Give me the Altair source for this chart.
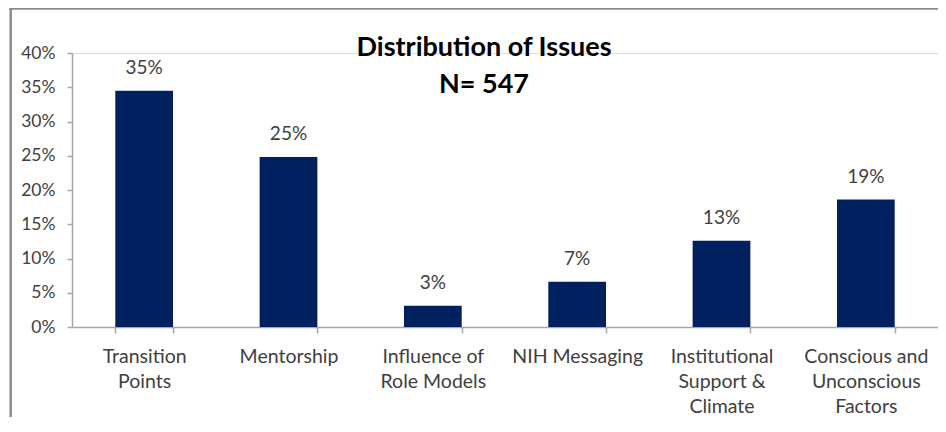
import altair as alt
import pandas as pd

categories = [
    "Transition|Points",
    "Mentorship",
    "Influence of|Role Models",
    "NIH Messaging",
    "Institutional|Support &|Climate",
    "Conscious and|Unconscious|Factors",
]
shares = [0.345, 0.248, 0.031, 0.066, 0.126, 0.186]
title_lines = ["Distribution of Issues", "N= 547"]
y_ticks = [0, 0.05, 0.10, 0.15, 0.20, 0.25, 0.30, 0.35, 0.40]

df = pd.DataFrame({"category": categories, "share": shares})

FONT = "Lato"
TEXT = "#404040"
AXIS = "#a6a6a6"
BAR = "#002060"
FRAME = "#8c8c8c"

x_enc = alt.X(
    "category:N",
    sort=categories,
    scale=alt.Scale(paddingInner=0.6, paddingOuter=0.3),
    axis=alt.Axis(
        title=None,
        labelAngle=0,
        labelExpr="split(datum.label, '|')",
        labelFont=FONT,
        labelFontSize=19.5,
        labelColor=TEXT,
        labelLineHeight=25,
        labelPadding=14,
        labelOverlap=False,
        tickBand="extent",
        tickSize=6,
        tickColor=AXIS,
        domainColor=AXIS,
        domainWidth=1.5,
        tickWidth=1.5,
        grid=False,
    ),
)
y_enc = alt.Y(
    "share:Q",
    scale=alt.Scale(domain=[0, 0.40]),
    axis=alt.Axis(
        title=None,
        values=y_ticks,
        format=".0%",
        labelFont=FONT,
        labelFontSize=17.5,
        labelColor=TEXT,
        labelPadding=12,
        labelOverlap=False,
        labelFlush=False,
        tickSize=5,
        tickColor=AXIS,
        domainColor=AXIS,
        domainWidth=1.5,
        tickWidth=1.5,
        grid=False,
    ),
)

base = alt.Chart(df)
bars = base.mark_bar(color=BAR).encode(x=x_enc, y=y_enc)
labels = base.mark_text(
    font=FONT, fontSize=19, color=TEXT, baseline="alphabetic", dy=-17
).encode(x=x_enc, y=y_enc, text=alt.Text("share:Q", format=".0%"))

one = alt.Data(values=[{"k": 1}])
title = alt.Chart(one).mark_text(
    font=FONT, fontSize=27, fontWeight="bold", color="black",
    baseline="alphabetic", align="center", lineHeight=37,
).encode(x=alt.value(412), y=alt.value(3), text=alt.value(title_lines))

frame_left = alt.Chart(one).mark_rule(color=FRAME, strokeWidth=2.5).encode(
    x=alt.value(-61.3), y=alt.value(-45), y2=alt.value(400)
)
frame_top = alt.Chart(one).mark_rule(color=FRAME, strokeWidth=2.5).encode(
    x=alt.value(-62.5), x2=alt.value(900), y=alt.value(-44.5)
)

chart = (
    alt.layer(bars, labels, title, frame_left, frame_top)
    .properties(
        width=866,
        height=274,
        autosize=alt.AutoSizeParams(type="none"),
        padding={"left": 64, "top": 45, "right": 0, "bottom": 90},
    )
    .configure_view(stroke=None)
    .configure(background="white")
)

chart.save("out.html", embed_options={"renderer": "svg", "actions": False})
